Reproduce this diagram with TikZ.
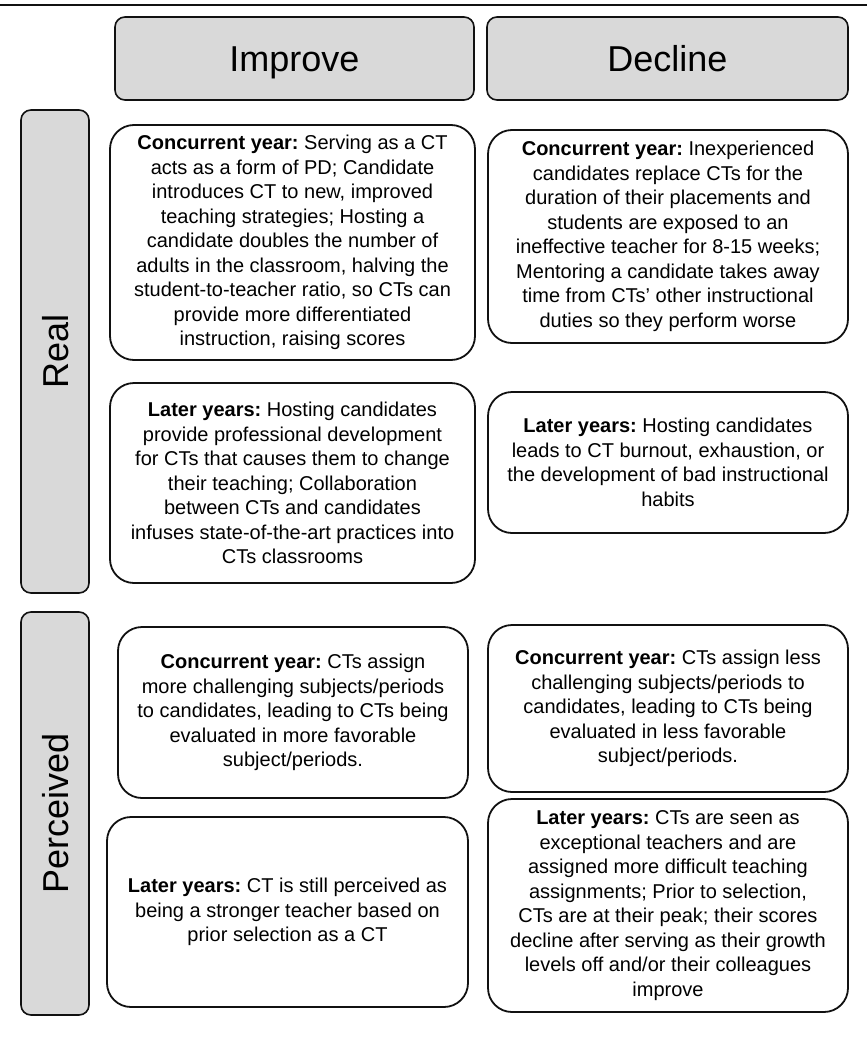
\documentclass[tikz,border=0pt]{standalone}
\usepackage{fontspec}
\setmainfont{Liberation Sans}
\usepackage{xcolor}
\usepackage{tikz}
\usetikzlibrary{positioning}
\definecolor{InkDark}{HTML}{111111}
\definecolor{HeadGray}{HTML}{D9D9D9}
\frenchspacing
\tikzset{
  headbox/.style={draw=InkDark,line width=1.6pt,rounded corners=10pt,fill=HeadGray,
    font=\fontsize{36}{42}\selectfont,inner sep=0pt,text height=26pt,text depth=0pt},
  sidebox/.style={headbox,rotate=90},
  cellbox/.style={draw=InkDark,line width=1.8pt,rounded corners=24pt,fill=white,align=center,
    font=\fontsize{20}{24.5}\selectfont,inner sep=0pt}
}

\begin{document}
\begin{tikzpicture}[x=1pt,y=-1pt]
  \useasboundingbox (0,0) rectangle (867,1049);
  \draw[InkDark,line width=2.4pt] (0,5) -- (867,5);

  \node[headbox,minimum width=359pt,minimum height=83pt] (A) at (294.5,58.5) {Improve};
  \node[headbox,minimum width=361pt,minimum height=83pt] (B) at (667.5,58.5) {Decline};

  \node[sidebox,minimum width=483pt,minimum height=68pt] (R) at (55,351.5) {Real};
  \node[sidebox,minimum width=403pt,minimum height=68pt] (P) at (55,813.5) {Perceived};

  \node[cellbox,minimum width=365pt,minimum height=235pt] (C) at (292.5,242.5)
    {\textbf{Concurrent year:} Serving as a CT\\ acts as a form of PD; Candidate\\
     introduces CT to new, improved\\ teaching strategies; Hosting a\\
     candidate doubles the number of\\ adults in the classroom, halving the\\
     student-to-teacher ratio, so CTs can\\ provide more differentiated\\
     instruction, raising scores};
  \node[cellbox,minimum width=360pt,minimum height=213pt] (D) at (668,236.5)
    {\textbf{Concurrent year:} Inexperienced\\ candidates replace CTs for the\\
     duration of their placements and\\ students are exposed to an\\
     ineffective teacher for 8-15 weeks;\\ Mentoring a candidate takes away\\
     time from CTs' other instructional\\ duties so they perform worse};

  \node[cellbox,minimum width=365pt,minimum height=200pt] (E) at (292.5,483)
    {\textbf{Later years:} Hosting candidates\\ provide professional development\\
     for CTs that causes them to change\\ their teaching; Collaboration\\
     between CTs and candidates\\ infuses state-of-the-art practices into\\
     CTs classrooms};
  \node[cellbox,minimum width=360pt,minimum height=141pt] (F) at (668,462.5)
    {\textbf{Later years:} Hosting candidates\\ leads to CT burnout, exhaustion, or\\
     the development of bad instructional\\ habits};

  \node[cellbox,minimum width=350pt,minimum height=171pt] (G) at (293,712.5)
    {\textbf{Concurrent year:} CTs assign\\ more challenging subjects/periods\\
     to candidates, leading to CTs being\\ evaluated in more favorable\\
     subject/periods.};
  \node[cellbox,minimum width=360pt,minimum height=167pt] (H) at (668,708.5)
    {\textbf{Concurrent year:} CTs assign less\\ challenging subjects/periods to\\
     candidates, leading to CTs being\\ evaluated in less favorable\\
     subject/periods.};

  \node[cellbox,minimum width=361pt,minimum height=190pt] (I) at (287.5,912)
    {\textbf{Later years:} CT is still perceived as\\ being a stronger teacher based on\\
     prior selection as a CT};
  \node[cellbox,minimum width=360pt,minimum height=213pt] (J) at (668,905.5)
    {\textbf{Later years:} CTs are seen as\\ exceptional teachers and are\\
     assigned more difficult teaching\\ assignments; Prior to selection,\\
     CTs are at their peak; their scores\\ decline after serving as their growth\\
     levels off and/or their colleagues\\ improve};
\end{tikzpicture}
\end{document}
